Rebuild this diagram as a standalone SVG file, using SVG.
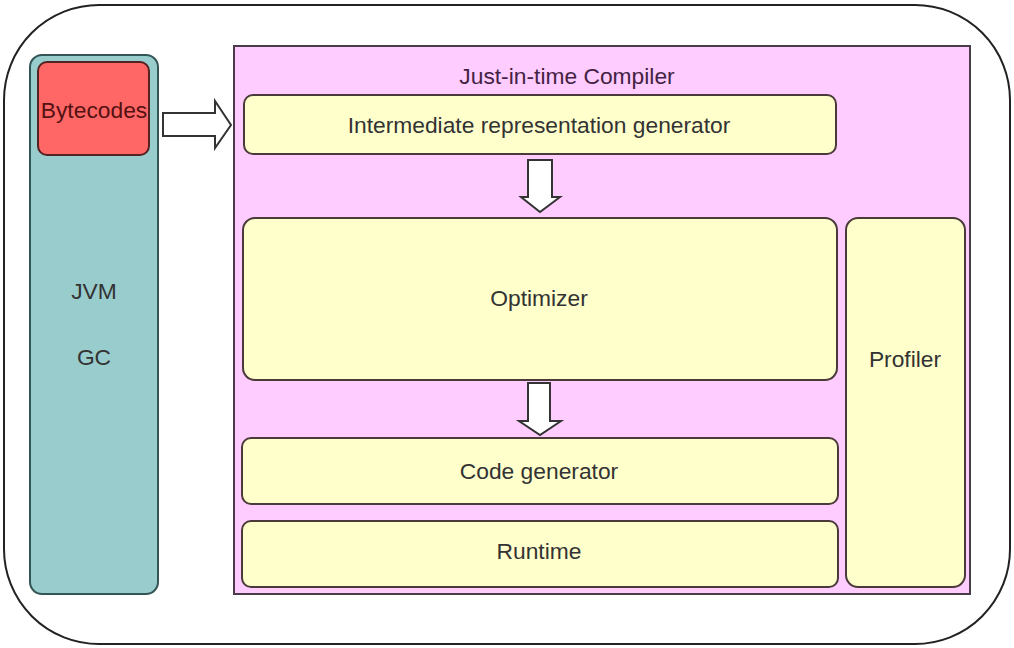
<svg xmlns="http://www.w3.org/2000/svg" width="1014" height="648" viewBox="0 0 1014 648">
<style>
text{font-family:"Liberation Sans",Arial,sans-serif;font-size:22.8px;fill:#333;text-anchor:middle}
.box{fill:#FFFFCC;stroke:#4a3a3a;stroke-width:2}
.arrow{fill:#fff;stroke:#333;stroke-width:2;stroke-linejoin:miter}
</style>
<rect x="0" y="0" width="1014" height="648" fill="#fff"/>
<rect x="4" y="5" width="1006" height="639" rx="95" ry="95" fill="#fff" stroke="#222" stroke-width="2"/>
<g id="jvm">
<rect x="30" y="55" width="128" height="539" rx="12" fill="#99CCCC" stroke="#335555" stroke-width="2"/>
<text x="94" y="299">JVM</text>
<text x="94" y="365">GC</text>
</g>
<g id="bytecodes">
<rect x="38" y="62" width="111" height="93" rx="9" fill="#FF6666" stroke="#552222" stroke-width="2"/>
<text x="94" y="118" style="fill:#551111">Bytecodes</text>
</g>
<g id="jit">
<rect x="234" y="46" width="736" height="548" fill="#FFCCFF" stroke="#4a3a4a" stroke-width="2"/>
<text x="567" y="84" style="fill:#442244">Just-in-time Compiler</text>
</g>
<g id="irgen">
<rect class="box" x="244" y="95" width="592" height="59" rx="9"/>
<text x="539" y="133">Intermediate representation generator</text>
</g>
<g id="optimizer">
<rect class="box" x="243" y="218" width="594" height="162" rx="12"/>
<text x="539" y="306">Optimizer</text>
</g>
<g id="codegen">
<rect class="box" x="242" y="438" width="596" height="66" rx="9"/>
<text x="539" y="479">Code generator</text>
</g>
<g id="runtime">
<rect class="box" x="242" y="521" width="596" height="66" rx="9"/>
<text x="539" y="559">Runtime</text>
</g>
<g id="profiler">
<rect class="box" x="846" y="218" width="119" height="369" rx="12"/>
<text x="905" y="367">Profiler</text>
</g>
<g id="connectors">
<path class="arrow" d="M163,113 H215 V101 L231,125 L215,148 V136 H163 Z"/>
<path class="arrow" d="M528,160 H552 V197 H560 L540,212 L521,197 H528 Z"/>
<path class="arrow" d="M528,383 H550 V421 H561 L540,435 L519,421 H528 Z"/>
</g>
</svg>
